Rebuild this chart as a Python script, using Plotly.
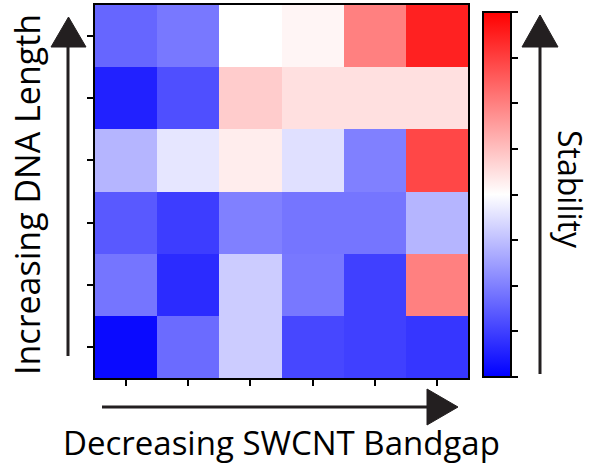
import plotly.graph_objects as go

# Data
bandgap_idx = [0, 1, 2, 3, 4, 5]          # decreasing SWCNT bandgap (left -> right)
dna_idx = [0, 1, 2, 3, 4, 5]              # increasing DNA length (bottom -> top)
row0 = [-0.96, -0.58, -0.20, -0.72, -0.75, -0.79]
row1 = [-0.54, -0.83, -0.20, -0.53, -0.75, 0.50]
row2 = [-0.65, -0.76, -0.50, -0.54, -0.54, -0.29]
row3 = [-0.29, -0.10, 0.07, -0.12, -0.50, 0.72]
row4 = [-0.87, -0.69, 0.20, 0.12, 0.12, 0.12]
row5 = [-0.60, -0.53, 0.00, 0.04, 0.50, 0.87]
stability = [row0, row1, row2, row3, row4, row5]
cbar_ticks = [-1, -0.75, -0.5, -0.25, 0, 0.25, 0.5, 0.75, 1]

W, H = 605, 471
L, R, T, B = 95, 468, 5, 378
pw, ph = R - L, B - T

def px(x):
    return (x - L) / pw

def py(y):
    return (B - y) / ph

INK = "#231f20"
FONT = "Open Sans"

fig = go.Figure(go.Heatmap(
    x=bandgap_idx, y=dna_idx, z=stability,
    zmin=-1, zmax=1,
    colorscale=[[0, "rgb(0,0,255)"], [0.5, "rgb(255,255,255)"], [1, "rgb(255,0,0)"]],
    colorbar=dict(
        x=px(483), xanchor="left", xref="paper",
        y=py(194.5), yanchor="middle", len=365 / ph, lenmode="fraction",
        thickness=28, thicknessmode="pixels",
        outlinecolor="black", outlinewidth=2,
        ticks="outside", ticklen=6, tickwidth=2, tickcolor="black",
        tickvals=cbar_ticks, showticklabels=False, xpad=0, ypad=0,
    ),
))

axis_common = dict(showline=True, mirror=True, linecolor="black", linewidth=2,
                   ticks="outside", ticklen=6, tickwidth=2, tickcolor="black",
                   showticklabels=False, showgrid=False, zeroline=False)
fig.update_xaxes(range=[-0.5, 5.5], tickvals=bandgap_idx, **axis_common)
fig.update_yaxes(range=[-0.5, 5.5], tickvals=dna_idx, **axis_common)

shapes = []
def line(x0, y0, x1, y1):
    shapes.append(dict(type="line", xref="paper", yref="paper",
                       x0=px(x0), y0=py(y0), x1=px(x1), y1=py(y1),
                       line=dict(color=INK, width=3)))

def tri(pts):
    path = "M " + " L ".join(f"{px(a)},{py(b)}" for a, b in pts) + " Z"
    shapes.append(dict(type="path", xref="paper", yref="paper", path=path,
                       fillcolor=INK, line=dict(color=INK, width=1)))

# left arrow
line(68, 356, 68, 45)
tri([(51, 47), (86, 47), (68.5, 17)])
# bottom arrow
line(102, 407, 429, 407)
tri([(427, 389), (427, 425), (458, 407)])
# stability arrow
line(540, 374, 540, 45)
tri([(522, 47), (558, 47), (540, 15)])

fig.update_layout(
    width=W, height=H,
    margin=dict(l=L, r=W - R, t=T, b=H - B, autoexpand=False),
    paper_bgcolor="white", plot_bgcolor="white",
    shapes=shapes,
    annotations=[
        dict(text="Decreasing SWCNT Bandgap", xref="paper", yref="paper",
             x=px(281), y=py(442), xanchor="center", yanchor="middle",
             showarrow=False, font=dict(family=FONT, size=33, color="black")),
        dict(text="Increasing DNA Length", xref="paper", yref="paper",
             x=px(27), y=py(195), xanchor="center", yanchor="middle", textangle=-90,
             showarrow=False, font=dict(family=FONT, size=34, color="black")),
        dict(text="Stability", xref="paper", yref="paper",
             x=px(571), y=py(189), xanchor="center", yanchor="middle", textangle=90,
             showarrow=False, font=dict(family=FONT, size=32, color="black")),
    ],
)

fig.write_html("out.html", config={"displayModeBar": False},
               post_script="document.body.style.margin='0px';")
